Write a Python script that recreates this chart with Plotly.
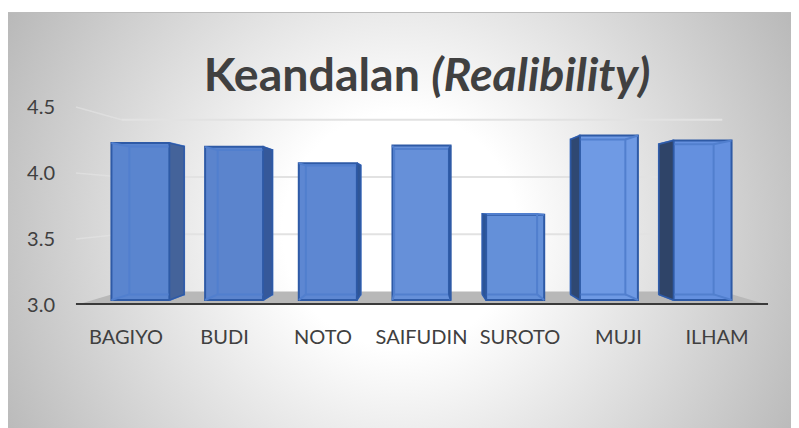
import base64
import plotly.graph_objects as go

# =========================
# DATA
# =========================
NAMES = ["BAGIYO", "BUDI", "NOTO", "SAIFUDIN", "SUROTO", "MUJI", "ILHAM"]
VALUES = [4.25, 4.22, 4.09, 4.23, 3.68, 4.31, 4.27]
Y_TICKS = [3.0, 3.5, 4.0, 4.5]
TITLE = "<b>Keandalan <i>(Realibility)</i></b>"

# =========================
# STYLE
# =========================
# the page keeps its 8px body margin, so the figure is that much smaller
PAGE_W, PAGE_H, PAGE_MARGIN = 799, 428, 8
WIDTH, HEIGHT = PAGE_W - PAGE_MARGIN, PAGE_H - PAGE_MARGIN
FONT = "Lato"
TEXT_COLOR = "#404040"
FACE_COLORS = ["#5a85cf", "#5b84cd", "#5d87d2", "#6690d9", "#6490d9", "#6f9ae4", "#6490df"]
SIDE_COLORS = ["#44639a", "#35589a", "#2f5596", "#2f5596", "#2c5496", "#2f4872", "#2f4468"]
EDGE_COLOR = "#2e5aa6"
INNER_COLOR = "#517fce"

# fake 3D: everything is pulled towards one vanishing point, by depth
VANISH_X, VANISH_Y = 3.0, 3.773
DEPTH_BAR_FRONT = 0.951
DEPTH_BAR_BACK = 0.896
DEPTH_WALL = 0.868
BAR_HALF = 0.31
WALL_LEFT, WALL_RIGHT = -0.508, 6.518


def px(x, depth):
    return VANISH_X + (x - VANISH_X) * depth


def py(y, depth):
    return VANISH_Y + (y - VANISH_Y) * depth


fig = go.Figure()

# front faces
fig.add_trace(go.Bar(
    x=[px(i, DEPTH_BAR_FRONT) for i in range(len(NAMES))],
    y=[py(v, DEPTH_BAR_FRONT) - py(3, DEPTH_BAR_FRONT) for v in VALUES],
    base=py(3, DEPTH_BAR_FRONT),
    width=2 * BAR_HALF * DEPTH_BAR_FRONT,
    marker=dict(color=FACE_COLORS, line=dict(color=EDGE_COLOR, width=2)),
    showlegend=False,
))

# side faces and the back edges seen through the bar
for i, v in enumerate(VALUES):
    x0, x1 = i - BAR_HALF, i + BAR_HALF
    edge = x1 if i <= 3 else x0
    fx, bx = px(edge, DEPTH_BAR_FRONT), px(edge, DEPTH_BAR_BACK)
    f3, b3 = py(3, DEPTH_BAR_FRONT), py(3, DEPTH_BAR_BACK)
    fv, bv = py(v, DEPTH_BAR_FRONT), py(v, DEPTH_BAR_BACK)
    bx0, bx1 = px(x0, DEPTH_BAR_BACK), px(x1, DEPTH_BAR_BACK)
    fx0, fx1 = px(x0, DEPTH_BAR_FRONT), px(x1, DEPTH_BAR_FRONT)

    # back rectangle, then the corner diagonals, None breaks the line
    fig.add_trace(go.Scatter(
        x=[bx0, bx1, bx1, bx0, bx0, None, fx0, bx0, None, fx1, bx1, None, fx0, bx0, None, fx1, bx1],
        y=[b3, b3, bv, bv, b3, None, f3, b3, None, f3, b3, None, fv, bv, None, fv, bv],
        mode="lines", line=dict(color=INNER_COLOR, width=2),
        hoverinfo="skip", showlegend=False,
    ))
    fig.add_trace(go.Scatter(
        x=[fx, bx, bx, fx, fx], y=[f3, b3, bv, fv, f3],
        fill="toself", fillcolor=SIDE_COLORS[i], mode="lines",
        line=dict(color=EDGE_COLOR, width=1.5), hoverinfo="skip", showlegend=False,
    ))

# floor, gridlines and axis line go under the bars, so they are shapes
shapes = [dict(
    type="path", layer="below", line=dict(width=0), fillcolor="#b8b8b8",
    path=f"M {WALL_LEFT} 3 L {px(WALL_LEFT, DEPTH_WALL)} {py(3, DEPTH_WALL)} "
         f"L {px(WALL_RIGHT, DEPTH_WALL)} {py(3, DEPTH_WALL)} L {WALL_RIGHT} 3 Z",
)]
for tick in Y_TICKS[1:]:
    shapes.append(dict(
        type="line", layer="below", line=dict(color="#e2e2e2", width=2),
        x0=px(WALL_LEFT, DEPTH_WALL), x1=px(WALL_RIGHT, DEPTH_WALL),
        y0=py(tick, DEPTH_WALL), y1=py(tick, DEPTH_WALL),
    ))
    shapes.append(dict(
        type="line", layer="below", line=dict(color="rgba(228,228,228,0.6)", width=1.5),
        x0=WALL_LEFT, x1=px(WALL_LEFT, DEPTH_WALL), y0=tick, y1=py(tick, DEPTH_WALL),
    ))
shapes.append(dict(
    type="line", layer="below", line=dict(color="#3a3a3a", width=4),
    x0=WALL_LEFT, x1=WALL_RIGHT, y0=3, y1=3,
))

# radial background, the page above the card stays white
svg = f"""<svg xmlns="http://www.w3.org/2000/svg" width="{WIDTH}" height="{HEIGHT}">
<defs><radialGradient id="g" gradientUnits="userSpaceOnUse" cx="392" cy="222" r="470">
<stop offset="0.25" stop-color="#ffffff"/><stop offset="1" stop-color="#b4b4b4"/>
</radialGradient></defs>
<rect x="0" y="4" width="{WIDTH}" height="{HEIGHT}" fill="url(#g)"/>
<rect x="0" y="4" width="{WIDTH}" height="1" fill="#bcbcbc"/>
</svg>"""
bg = "data:image/svg+xml;base64," + base64.b64encode(svg.encode()).decode()

fig.update_layout(
    width=WIDTH, height=HEIGHT,
    margin=dict(l=0, r=0, t=0, b=0),
    paper_bgcolor="white", plot_bgcolor="rgba(0,0,0,0)",
    font=dict(family=FONT, color=TEXT_COLOR),
    title=dict(text=TITLE, x=(427 - PAGE_MARGIN) / WIDTH, xanchor="center",
               y=1 - (75 - PAGE_MARGIN) / HEIGHT, yanchor="middle",
               font=dict(family=FONT, size=46.5, color=TEXT_COLOR)),
    images=[dict(source=bg, xref="paper", yref="paper", x=0, y=1, sizex=1, sizey=1,
                 sizing="stretch", xanchor="left", yanchor="top", layer="below")],
    shapes=shapes,
    xaxis=dict(
        automargin=False,
        range=[3 - (421.5 - PAGE_MARGIN) / 98.5, 3 + (PAGE_W - 421.5) / 98.5],
        domain=[0, 1], tickmode="array", tickvals=list(range(len(NAMES))), ticktext=NAMES,
        showgrid=False, zeroline=False, showline=False,
        ticks="outside", ticklen=14, tickcolor="rgba(0,0,0,0)",
        tickfont=dict(family=FONT, size=20, color=TEXT_COLOR),
    ),
    yaxis=dict(
        automargin=False,
        domain=[(PAGE_H - 305) / HEIGHT, 1], range=[3, 3 + (305 - PAGE_MARGIN) / 132],
        anchor="free", position=(55 - PAGE_MARGIN) / WIDTH,
        tickmode="array", tickvals=Y_TICKS, ticktext=[f"{t:.1f}" for t in Y_TICKS],
        showgrid=False, zeroline=False, showline=False, ticks="",
        tickfont=dict(family=FONT, size=20, color=TEXT_COLOR),
    ),
)

fig.write_html("out.html")
